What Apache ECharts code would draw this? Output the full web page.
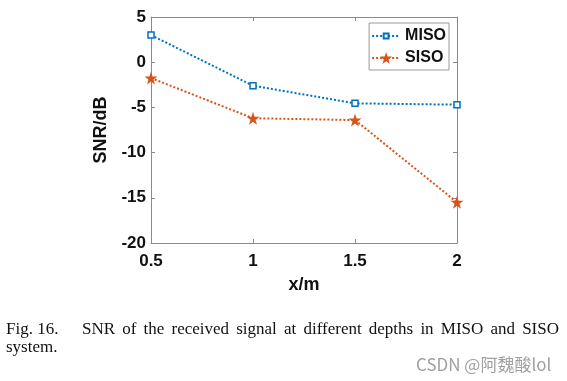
<!DOCTYPE html>
<html>
<head>
<meta charset="utf-8">
<script src="https://cdn.jsdelivr.net/npm/echarts@6/dist/echarts.min.js"></script>
<style>html,body{margin:0;padding:0;background:#fff;}#c{width:567px;height:381px;}</style>
</head>
<body>
<div id="c"></div>
<script>
const xValues = [0.5, 1, 1.5, 2];
const misoValues = [3.0, -2.6, -4.55, -4.7];
const sisoValues = [-1.75, -6.2, -6.4, -15.5];
const yTicks = [-20, -15, -10, -5, 0, 5];
const xTicks = [0.5, 1, 1.5, 2];
const captionLabel = 'Fig. 16.';
const captionLine1 = 'SNR of the received signal at different depths in MISO and SISO';
const captionLine2 = 'system.';
const watermark = 'CSDN @阿魏酸lol';

const star = 'path://M50,0 L61.2,34.5 L97.6,34.5 L68.2,55.9 L79.4,90.5 L50,69.1 L20.6,90.5 L31.8,55.9 L2.4,34.5 L38.8,34.5 Z';
// small square inside a larger invisible box (moveTo points only extend the bounds)
const square = 'path://M0,0 M100,100 M30,30 L70,30 L70,70 L30,70 Z';
const axisCol = '#8a8a8a';
const font = 'Liberation Sans, Arial, sans-serif';
const serif = '17px "Liberation Serif", "Times New Roman", serif';

// justify caption line 1 between x=82 and x=559
const ctx = document.createElement('canvas').getContext('2d');
ctx.font = serif;
const words = captionLine1.split(' ');
const wWidths = words.map(w => ctx.measureText(w).width);
const totalW = wWidths.reduce((a, b) => a + b, 0);
const x0 = 82, x1 = 559;
const gap = (x1 - x0 - totalW) / (words.length - 1);
const capGraphics = [];
let cx = x0;
words.forEach((w, i) => {
  capGraphics.push({type: 'text', left: cx, top: 321, style: {text: w, font: serif, fill: '#111'}});
  cx += wWidths[i] + gap;
});

const chart = echarts.init(document.getElementById('c'), null, {renderer: 'canvas'});
chart.setOption({
  backgroundColor: '#fff',
  animation: false,
  grid: {left: 151, right: 110, top: 17, bottom: 138, show: false},
  legend: {
    right: 118, top: 23,
    orient: 'vertical',
    borderColor: '#999', borderWidth: 1,
    padding: [5, 3, 4, 2],
    itemGap: 6, itemWidth: 28, itemHeight: 15,
    backgroundColor: '#fff',
    textStyle: {fontFamily: font, fontWeight: 'bold', fontSize: 16, color: '#111'},
    data: [
      {name: 'MISO', itemStyle: {color: '#fff', borderColor: '#0072BD', borderWidth: 2}},
      {name: 'SISO'}
    ]
  },
  xAxis: [{
    type: 'value', min: xTicks[0], max: xTicks[xTicks.length - 1], interval: 0.5,
    name: 'x/m', nameLocation: 'middle', nameGap: 33,
    nameTextStyle: {fontFamily: font, fontWeight: 'bold', fontSize: 18, color: '#111'},
    axisLine: {show: true, onZero: false, lineStyle: {color: axisCol, width: 1}},
    axisTick: {show: true, inside: true, length: 4, lineStyle: {color: axisCol}},
    axisLabel: {fontFamily: font, fontWeight: 'bold', fontSize: 17, color: '#111', margin: 10},
    splitLine: {show: false}
  }, {
    type: 'value', position: 'top', min: xTicks[0], max: xTicks[xTicks.length - 1], interval: 0.5,
    axisLine: {show: true, onZero: false, lineStyle: {color: axisCol, width: 1}},
    axisTick: {show: true, inside: true, length: 4, lineStyle: {color: axisCol}},
    axisLabel: {show: false}, splitLine: {show: false}
  }],
  yAxis: [{
    type: 'value', min: yTicks[0], max: yTicks[yTicks.length - 1], interval: 5,
    name: 'SNR/dB', nameLocation: 'middle', nameGap: 35, nameRotate: 90,
    nameTextStyle: {fontFamily: font, fontWeight: 'bold', fontSize: 18, color: '#111'},
    axisLine: {show: true, onZero: false, lineStyle: {color: axisCol, width: 1}},
    axisTick: {show: true, inside: true, length: 4, lineStyle: {color: axisCol}},
    axisLabel: {fontFamily: font, fontWeight: 'bold', fontSize: 17, color: '#111', margin: 5},
    splitLine: {show: false}
  }, {
    type: 'value', position: 'right', min: yTicks[0], max: yTicks[yTicks.length - 1], interval: 5,
    axisLine: {show: true, onZero: false, lineStyle: {color: axisCol, width: 1}},
    axisTick: {show: true, inside: true, length: 4, lineStyle: {color: axisCol}},
    axisLabel: {show: false}, splitLine: {show: false}
  }],
  series: [{
    name: 'MISO', type: 'line',
    data: xValues.map((x, i) => [x, misoValues[i]]),
    lineStyle: {color: '#0072BD', width: 2, type: [2, 2]},
    itemStyle: {color: '#fff', borderColor: '#0072BD', borderWidth: 1.5},
    symbol: square, symbolSize: 15, showAllSymbol: true
  }, {
    name: 'SISO', type: 'line',
    data: xValues.map((x, i) => [x, sisoValues[i]]),
    lineStyle: {color: '#D95319', width: 2, type: [2, 2]},
    itemStyle: {color: '#D95319', borderColor: '#D95319', borderWidth: 0},
    symbol: star, symbolSize: 13, showAllSymbol: true
  }],
  graphic: [
    {type: 'text', left: 6, top: 321, style: {text: captionLabel, font: serif, fill: '#111'}},
    ...capGraphics,
    {type: 'text', left: 6, top: 339, style: {text: captionLine2, font: serif, fill: '#111'}},
    {type: 'text', left: 416, top: 356, style: {text: watermark, font: '17px "Noto Sans CJK SC", "DejaVu Sans", sans-serif', fill: '#a0a0a0'}}
  ]
});
</script>
</body>
</html>
